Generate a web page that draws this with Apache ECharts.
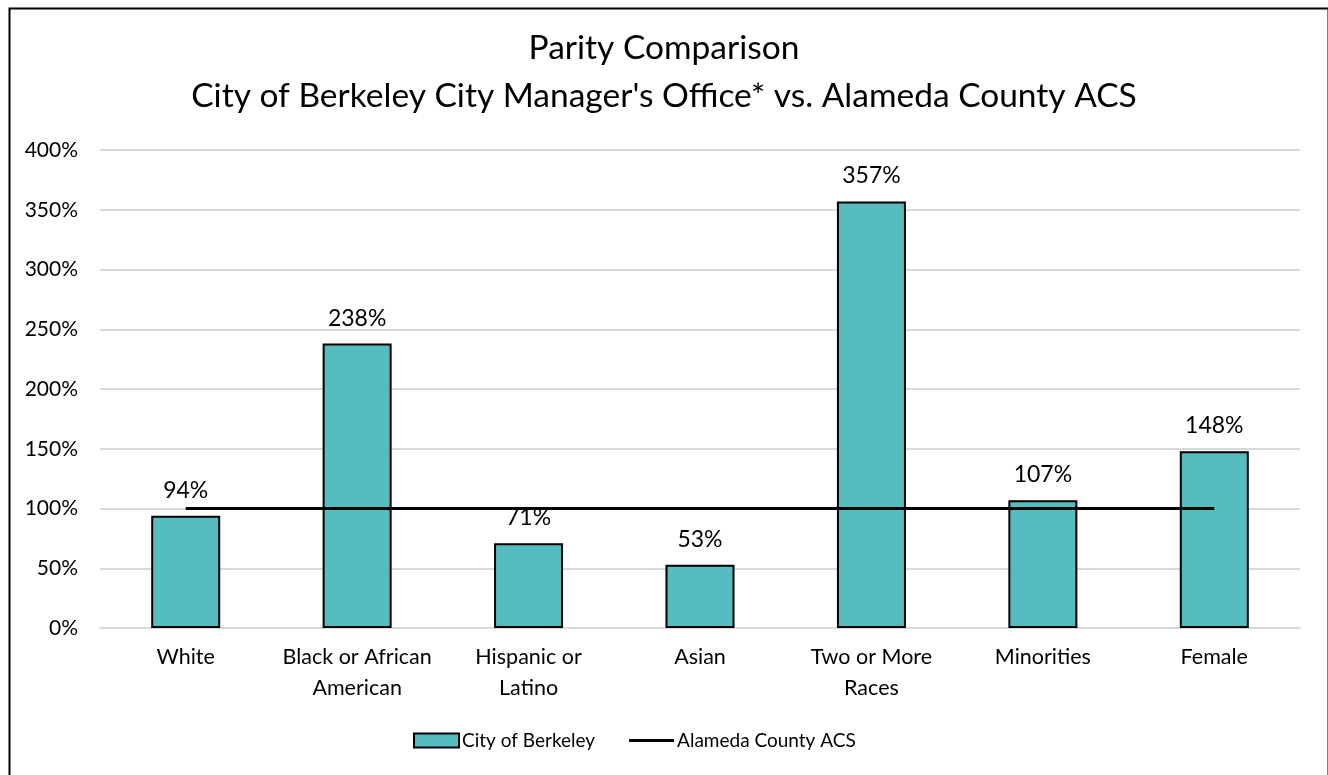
<!DOCTYPE html>
<html><head><meta charset="utf-8">
<script src="https://cdn.jsdelivr.net/npm/echarts@6/dist/echarts.min.js"></script>
<style>html,body{margin:0;padding:0;background:#fff}#c{width:1328px;height:775px}</style>
</head><body><div id="c"></div>
<script>
const categories = ['White', 'Black or African\nAmerican', 'Hispanic or\nLatino', 'Asian', 'Two or More\nRaces', 'Minorities', 'Female'];
const berkeleyValues = [94, 238, 71, 53, 357, 107, 148];
const alamedaValues = [100, 100, 100, 100, 100, 100, 100];
const titleLines = ['Parity Comparison', "City of Berkeley City Manager's Office* vs. Alameda County ACS"];
const seriesNames = ['City of Berkeley', 'Alameda County ACS'];

const FONT = 'Lato, "Open Sans", sans-serif';
const chart = echarts.init(document.getElementById('c'), null, {renderer: 'canvas'});
chart.setOption({
  backgroundColor: '#fff',
  animation: false,
  textStyle: {fontFamily: FONT},
  graphic: [{
    type: 'rect', left: 7, top: 6, z: 100,
    shape: {width: 1319, height: 800},
    style: {fill: 'none', stroke: '#000', lineWidth: 2}
  }],
  title: {
    text: titleLines.join('\n'),
    left: 'center', top: 19,
    textStyle: {fontFamily: FONT, fontSize: 33.5, fontWeight: 'normal', color: '#000', lineHeight: 48}
  },
  legend: {
    bottom: 20, left: 408, itemGap: 34,
    itemWidth: 45, itemHeight: 14,
    textStyle: {fontFamily: FONT, fontSize: 19, color: '#000', padding: [0,0,0,-2]},
    data: [
      {name: seriesNames[0], icon: 'rect'},
      {name: seriesNames[1], icon: 'path://M0,0L47,0L47,3L0,3Z', itemStyle: {color: '#000'}}
    ]
  },
  grid: {left: 100, right: 28, top: 150, bottom: 147, containLabel: false},
  xAxis: {
    type: 'category', data: categories,
    axisLine: {lineStyle: {color: '#D9D9D9', width: 2}},
    axisTick: {show: false},
    axisLabel: {interval: 0, fontFamily: FONT, fontSize: 21.5, color: '#000', lineHeight: 31, margin: 14}
  },
  yAxis: {
    type: 'value', min: 0, max: 400, interval: 50,
    axisLine: {show: false}, axisTick: {show: false},
    splitLine: {lineStyle: {color: '#D9D9D9', width: 2}},
    axisLabel: {fontFamily: FONT, fontSize: 21, color: '#000', margin: 22, formatter: v => v + '%'}
  },
  series: [{
    name: seriesNames[0], type: 'bar', data: berkeleyValues, barWidth: 69, z: 2,
    itemStyle: {color: '#55BCC0', borderColor: '#000', borderWidth: 2},
    label: {show: true, position: 'top', distance: 14, fontFamily: FONT, fontSize: 23, color: '#000', formatter: p => p.value + '%'}
  }, {
    name: seriesNames[1], type: 'line', data: alamedaValues, z: 5,
    symbol: 'none', lineStyle: {color: '#000', width: 3}, itemStyle: {color: '#000'}
  }]
});
</script></body></html>
